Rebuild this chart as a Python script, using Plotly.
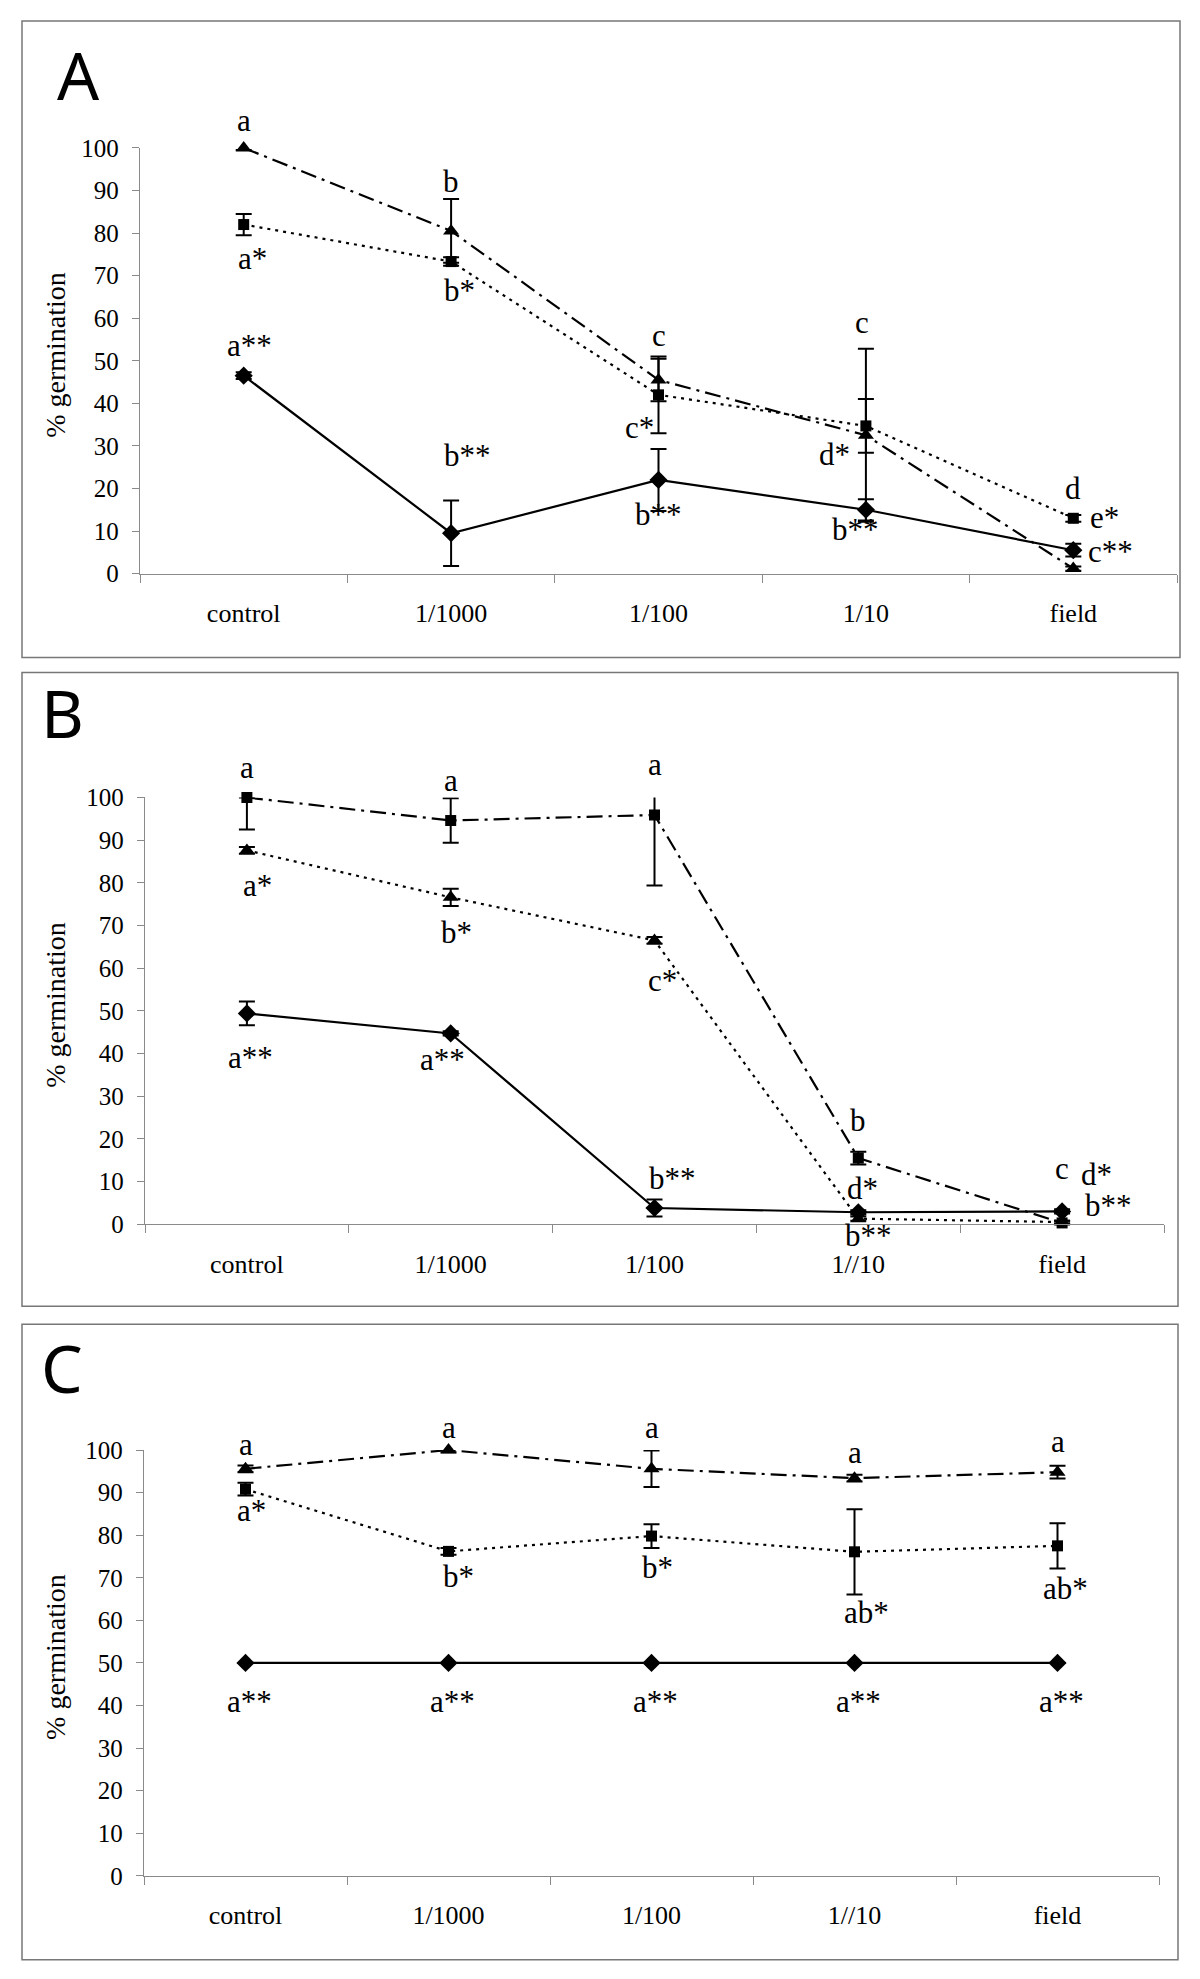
import plotly.graph_objects as go

W, H = 1200, 1979

# ---------------- data ----------------
cats_A = ["control", "1/1000", "1/100", "1/10", "field"]
cats_BC = ["control", "1/1000", "1/100", "1//10", "field"]

A_diamond = [46.5, 9.5, 22.0, 15.0, 5.5]
A_diamond_err = [0.8, 7.7, 7.3, 2.5, 1.5]
A_square = [82.0, 73.3, 42.0, 34.7, 13.0]
A_square_err = [2.5, 1.0, 9.0, 6.3, 0.8]
A_triangle = [100.0, 80.5, 45.5, 32.5, 1.2]
A_triangle_err = [0.5, 7.5, 5.0, 20.3, 0.5]

B_diamond = [49.4, 44.7, 3.8, 2.8, 3.0]
B_diamond_err = [2.8, 0.5, 2.0, 0.5, 0.5]
B_square = [100.0, 94.6, 95.9, 15.5, 0.3]
B_square_err_plus = [0.0, 5.2, 5.5, 1.5, 0.5]
B_square_err_minus = [7.5, 5.2, 16.5, 1.5, 0.3]
B_triangle = [87.6, 76.6, 66.5, 1.3, 0.5]
B_triangle_err = [0.8, 2.0, 0.8, 0.5, 0.3]

C_diamond = [50.0, 50.0, 50.0, 50.0, 50.0]
C_diamond_err = [0.0, 0.0, 0.0, 0.0, 0.0]
C_square = [90.8, 76.2, 79.8, 76.1, 77.5]
C_square_err = [1.5, 0.8, 2.8, 10.0, 5.3]
C_triangle = [95.6, 100.0, 95.6, 93.4, 94.8]
C_triangle_err = [0.8, 0.5, 4.3, 0.8, 1.5]

y_ticks = [0, 10, 20, 30, 40, 50, 60, 70, 80, 90, 100]

# significance letters: (text, category index, y value, x offset in category units)
A_letters = [
    ("a", 0, 106.5, 0.0), ("a*", 0, 74.0, 0.04), ("a**", 0, 53.5, 0.03),
    ("b", 1, 92.0, 0.0), ("b*", 1, 66.4, 0.04), ("b**", 1, 27.7, 0.08),
    ("c", 2, 56.0, 0.0), ("c*", 2, 34.3, -0.09), ("b**", 2, 13.8, 0.0),
    ("c", 3, 59.0, -0.02), ("d*", 3, 28.0, -0.15), ("b**", 3, 10.3, -0.05),
    ("d", 4, 19.9, 0.0), ("e*", 4, 13.1, 0.15), ("c**", 4, 5.3, 0.18),
]
B_letters = [
    ("a", 0, 107.0, 0.0), ("a", 1, 104.0, 0.0), ("a", 2, 107.8, 0.0),
    ("a*", 0, 79.4, 0.05), ("b*", 1, 68.4, 0.03), ("c*", 2, 57.0, 0.04),
    ("a**", 0, 39.0, 0.02), ("a**", 1, 38.7, -0.04), ("b**", 2, 10.8, 0.09),
    ("b", 3, 24.2, 0.0), ("d*", 3, 8.3, 0.02), ("b**", 3, -2.6, 0.05),
    ("c", 4, 13.0, 0.0), ("d*", 4, 11.6, 0.17), ("b**", 4, 4.3, 0.23),
]
C_letters = [
    ("a", 0, 101.4, 0.0), ("a", 1, 105.4, 0.0), ("a", 2, 105.4, 0.0),
    ("a", 3, 99.5, 0.0), ("a", 4, 101.9, 0.0),
    ("a*", 0, 85.9, 0.03), ("b*", 1, 70.2, 0.05), ("b*", 2, 72.5, 0.03),
    ("ab*", 3, 61.8, 0.06), ("ab*", 4, 67.4, 0.04),
    ("a**", 0, 41.0, 0.02), ("a**", 1, 41.0, 0.02), ("a**", 2, 41.0, 0.02),
    ("a**", 3, 41.0, 0.02), ("a**", 4, 41.0, 0.02),
]

# ---------------- styles ----------------
SERIF = "Liberation Serif, Times New Roman, serif"
SANS = "Noto Sans, Open Sans, sans-serif"
GRAY = "#8a8a8a"
DOT = "3px,5px"
DASHDOT = "16px,6px,3px,6px"

MARK = {
    "diamond": dict(symbol="diamond", size=14),
    "square": dict(symbol="square", size=11),
    "triangle": dict(symbol="triangle-up", size=14),
}

fig = go.Figure()


def add_series(cats, vals, errp, errm, shape, dash, xa, ya):
    fig.add_trace(go.Scatter(
        x=cats, y=vals, mode="lines+markers",
        line=dict(color="black", width=2.2, dash=dash),
        marker=dict(color="black", line=dict(width=0), **MARK[shape]),
        error_y=dict(type="data", array=errp, arrayminus=errm, symmetric=False,
                     color="black", thickness=2, width=8),
        xaxis=xa, yaxis=ya, cliponaxis=False, showlegend=False,
    ))


# Panel A
add_series(cats_A, A_diamond, A_diamond_err, A_diamond_err, "diamond", "solid", "x", "y")
add_series(cats_A, A_square, A_square_err, A_square_err, "square", DOT, "x", "y")
add_series(cats_A, A_triangle, A_triangle_err, A_triangle_err, "triangle", DASHDOT, "x", "y")
# Panel B
add_series(cats_BC, B_diamond, B_diamond_err, B_diamond_err, "diamond", "solid", "x2", "y2")
add_series(cats_BC, B_triangle, B_triangle_err, B_triangle_err, "triangle", DOT, "x2", "y2")
add_series(cats_BC, B_square, B_square_err_plus, B_square_err_minus, "square", DASHDOT, "x2", "y2")
# Panel C
add_series(cats_BC, C_diamond, C_diamond_err, C_diamond_err, "diamond", "solid", "x3", "y3")
add_series(cats_BC, C_square, C_square_err, C_square_err, "square", DOT, "x3", "y3")
add_series(cats_BC, C_triangle, C_triangle_err, C_triangle_err, "triangle", DASHDOT, "x3", "y3")

# ---------------- layout ----------------
# the page render maps figure pixel y to screen pixel ~ 0.987*y + 10;
# target screen pixels are converted back to figure pixels
def px_x(p):
    return p / W


def px_y(p):
    fig_px = (p - 10.0) / 0.987
    return 1 - fig_px / H


# plot areas in target pixels: (x_left, x_right, y_of_0, y_of_100)
areas = {
    "A": (140, 1177, 571, 145),
    "B": (145, 1164, 1222, 795),
    "C": (144, 1159, 1874, 1448),
}
boxes = {
    "A": (22, 18, 1180, 655),
    "B": (22, 670, 1178, 1304),
    "C": (22, 1322, 1178, 1958),
}
letter_pos = {"A": (79, 71), "B": (62, 709), "C": (62, 1365)}


def xaxis_cfg(key, anchor):
    x0, x1, _, _ = areas[key]
    return dict(
        domain=[px_x(x0), px_x(x1)], type="category", range=[-0.5, 4.5],
        tickson="boundaries", ticks="outside", ticklen=8, tickcolor=GRAY,
        tickwidth=1, showline=True, linecolor=GRAY, linewidth=1.3,
        showgrid=False, zeroline=False, ticklabelstandoff=16, anchor=anchor,
        tickfont=dict(family=SERIF, size=26, color="black"), fixedrange=True,
    )


def yaxis_cfg(key, anchor):
    _, _, y0, y1 = areas[key]
    return dict(
        domain=[px_y(y0), px_y(y1)], range=[0, 100], tickvals=y_ticks,
        ticks="outside", ticklen=7, tickcolor=GRAY, tickwidth=1,
        showline=True, linecolor=GRAY, linewidth=1.3, showgrid=False,
        zeroline=False, ticklabelstandoff=8, anchor=anchor,
        tickfont=dict(family=SERIF, size=25, color="black"), fixedrange=True,
    )


annotations = []
shapes = []
for key, xa, letters in [("A", "x", A_letters), ("B", "x2", B_letters), ("C", "x3", C_letters)]:
    ya = xa.replace("x", "y")
    for txt, ci, yv, dx in letters:
        annotations.append(dict(
            text=txt, x=ci + dx, y=yv / 100.0, xref=xa, yref=ya + " domain",
            showarrow=False, xanchor="center", yanchor="middle",
            font=dict(family=SERIF, size=31, color="black"),
        ))
    x0, x1, y0, y1 = areas[key]
    annotations.append(dict(
        text="% germination", x=px_x(56), y=px_y((y0 + y1) / 2 - 6),
        xref="paper", yref="paper", showarrow=False, textangle=-90,
        xanchor="center", yanchor="middle",
        font=dict(family=SERIF, size=28, color="black"),
    ))
    lx, ly = letter_pos[key]
    annotations.append(dict(
        text=key, x=px_x(lx), y=px_y(ly), xref="paper", yref="paper",
        showarrow=False, xanchor="center", yanchor="middle",
        font=dict(family=SANS, size=66, color="black"),
    ))
    bx0, by0, bx1, by1 = boxes[key]
    shapes.append(dict(
        type="rect", xref="paper", yref="paper",
        x0=px_x(bx0), x1=px_x(bx1), y0=px_y(by1), y1=px_y(by0),
        line=dict(color="#777777", width=1.5), layer="below",
    ))

fig.update_layout(
    width=W, height=H, margin=dict(l=0, r=0, t=0, b=0),
    paper_bgcolor="white", plot_bgcolor="white", showlegend=False,
    xaxis=xaxis_cfg("A", "y"), yaxis=yaxis_cfg("A", "x"),
    xaxis2=xaxis_cfg("B", "y2"), yaxis2=yaxis_cfg("B", "x2"),
    xaxis3=xaxis_cfg("C", "y3"), yaxis3=yaxis_cfg("C", "x3"),
    annotations=annotations, shapes=shapes,
)

fig.write_html(
    "out.html",
    config={"displayModeBar": False},
    post_script="document.body.style.margin='0';document.body.style.overflow='hidden';",
)
